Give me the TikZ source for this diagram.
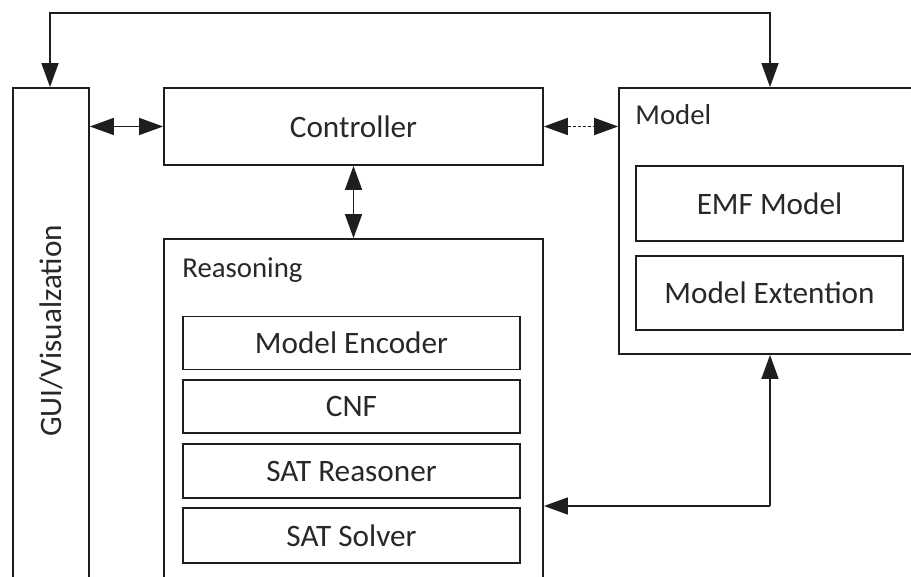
\documentclass[tikz,border=0pt]{standalone}
\usepackage{fontspec}
\setmainfont{Carlito}
\usetikzlibrary{arrows.meta}
\definecolor{ink}{RGB}{30,30,30}
\definecolor{txt}{RGB}{40,40,40}
\tikzset{
  box/.style={draw=ink, line width=0.9pt, rectangle, inner sep=0pt, fill=white,
    text=txt, font=\fontsize{15.6}{18}\selectfont},
  lbl/.style={inner sep=0pt, text=txt, font=\fontsize{14.4}{17}\selectfont},
  link/.style={draw=ink, line width=0.8pt,
    {Triangle[length=12pt,width=8.5pt]}-{Triangle[length=12pt,width=8.5pt]}},
  uplink/.style={draw=ink, line width=0.8pt, -{Triangle[length=12pt,width=8.5pt]}},
}
\begin{document}
\begin{tikzpicture}[x=0.5pt,y=-0.5pt]
  \clip (0,0) rectangle (911,577);
  \fill[white] (0,0) rectangle (911,577);

  % main blocks
  \node[box, minimum width=38pt, minimum height=256pt] (gui) at (51,344) {};
  \node[lbl, rotate=90, font=\fontsize{15.6}{18}\selectfont] (guitext) at (51,331) {GUI/Visualzation};
  \node[box, minimum width=189.5pt, minimum height=38.5pt] (ctrl) at (353.5,126.5) {Controller};
  \node[box, minimum width=153pt, minimum height=133pt] (model) at (772,221) {};
  \node[box, minimum width=189.5pt, minimum height=180.5pt] (reason) at (353.5,419.5) {};

  % group titles
  \node[lbl, anchor=base west] (modeltitle) at (635,125) {Model};
  \node[lbl, anchor=base west] (reasontitle) at (182,278) {Reasoning};

  % model parts
  \node[box, minimum width=133.5pt, minimum height=37.5pt] (emf) at (769.5,203.5) {EMF Model};
  \node[box, minimum width=133.5pt, minimum height=37pt] (ext) at (769.5,293) {Model Extention};

  % reasoning parts
  \node[box, minimum width=168.5pt, minimum height=26.5pt] (enc) at (351.5,343) {Model Encoder};
  \node[box, minimum width=168.5pt, minimum height=26.5pt] (cnf) at (351.5,406.5) {CNF};
  \node[box, minimum width=168.5pt, minimum height=27pt] (satr) at (351.5,471) {SAT Reasoner};
  \node[box, minimum width=168.5pt, minimum height=27.5pt] (sats) at (351.5,535.5) {SAT Solver};

  % connectors
  \coordinate (topl) at (50,13);
  \coordinate (topr) at (770,13);
  \coordinate (corner) at (770,506);
  \draw[link] (gui.north -| topl) -- (topl) -- (topr) -- (model.north -| topr);
  \draw[link] (gui.east |- ctrl.west) -- (ctrl.west);
  \draw[link] (ctrl.south) -- (reason.north);
  \draw[link, line width=0.9pt, dash pattern=on 1.6pt off 1pt] (ctrl.east) -- (model.west |- ctrl.east);
  \draw[uplink] (corner) -- (model.south -| corner);
  \draw[uplink] (corner) -- (reason.east |- corner);
\end{tikzpicture}
\end{document}
